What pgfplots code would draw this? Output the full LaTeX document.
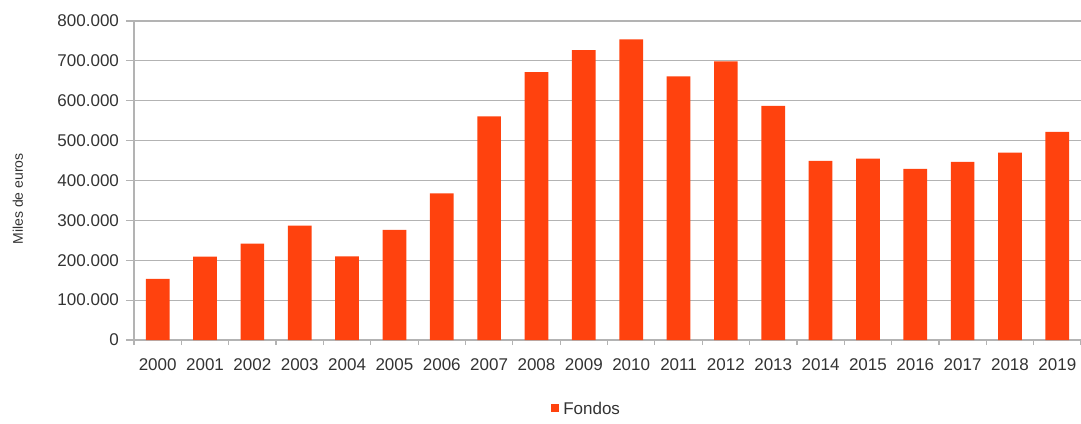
\documentclass[border=0pt]{standalone}
\usepackage{fontspec}
\setmainfont{Liberation Sans}
\usepackage{pgfplots}
\pgfplotsset{compat=1.18}
\definecolor{barc}{HTML}{FF420E}
\definecolor{gridc}{HTML}{B3B3B3}
\definecolor{txt}{HTML}{333333}
\begin{document}
\begin{tikzpicture}
\begin{axis}[
  name=ax,
  scale only axis,
  width=473.5pt, height=159.5pt,
  xmin=-0.5, xmax=19.5,
  ymin=0, ymax=800000,
  ytick={0,100000,...,800000},
  yticklabels={0,100.000,200.000,300.000,400.000,500.000,600.000,700.000,800.000},
  xtick={0,...,19},
  xticklabels={2000,2001,2002,2003,2004,2005,2006,2007,2008,2009,2010,2011,2012,2013,2014,2015,2016,2017,2018,2019},
  minor xtick={-0.5,0.5,...,19.5},
  tick align=outside,
  x tick style={draw=none},
  minor x tick style={draw=gridc, line width=0.6pt},
  minor tick length=2.5pt,
  y tick style={draw=gridc, line width=0.6pt},
  major tick length=4pt,
  ymajorgrids,
  grid style={gridc, line width=0.6pt},
  axis x line*=bottom,
  axis y line*=left,
  axis line style={gridc, line width=0.6pt},
  tick label style={font=\fontsize{8.5pt}{10pt}\selectfont, text=txt},
  xticklabel style={yshift=-2pt},
  scaled y ticks=false,
  ylabel={Miles de euros},
  ylabel style={at={(axis description cs:-0.1225,0.442)}, anchor=center, font=\fontsize{7pt}{8pt}\selectfont, text=txt},
  legend style={at={(axis description cs:0.479,-0.219)}, anchor=center, draw=none, font=\fontsize{8.5pt}{10pt}\selectfont, text=txt, inner sep=0pt},
]
\addplot[ybar, bar width=0.5, bar shift=0pt, fill=barc, draw=none,
  legend image code/.code={\fill[barc] (0pt,-1pt) rectangle (4pt,3pt);}] coordinates {
(0,153000) (1,209000) (2,242000) (3,287000) (4,210000) (5,276000) (6,368000)
(7,561000) (8,672000) (9,727000) (10,754000) (11,661000) (12,699000) (13,587000)
(14,449000) (15,455000) (16,429000) (17,447000) (18,470000) (19,522000)};
\addlegendentry{Fondos}
\end{axis}
\pgfresetboundingbox
\path (ax.south west) ++(-67pt,-41.5pt) rectangle ++(540.5pt,211.5pt);
\end{tikzpicture}
\end{document}
